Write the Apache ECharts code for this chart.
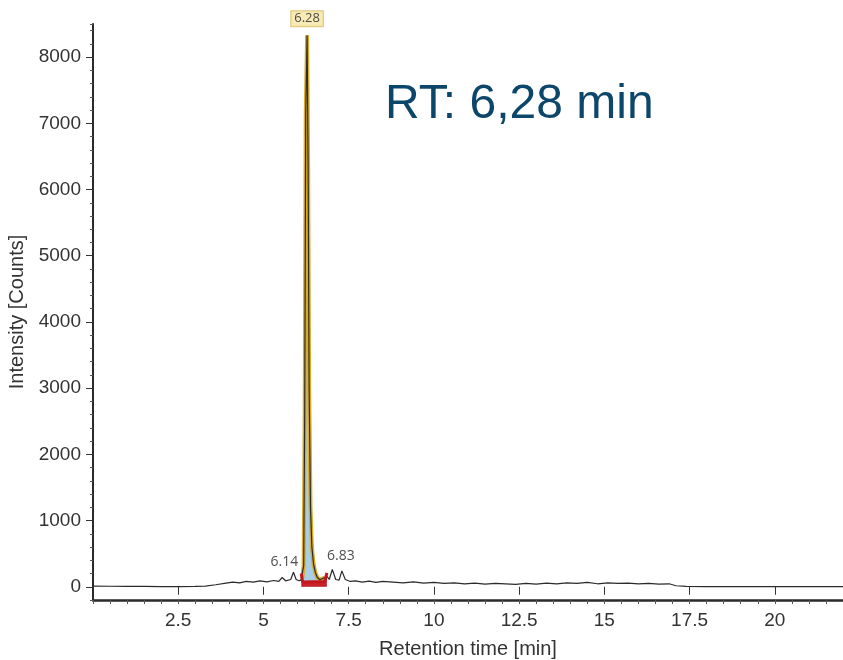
<!DOCTYPE html>
<html>
<head>
<meta charset="utf-8">
<script src="https://cdn.jsdelivr.net/npm/echarts@6/dist/echarts.min.js"></script>
<style>
  html, body { margin: 0; padding: 0; background: #fff; }
  #chart { width: 843px; height: 660px; }
</style>
</head>
<body>
<div id="chart"></div>
<script>
// retention time (min) and intensity (counts)
const times = [0, 0.5, 1.0, 1.5, 2.0, 2.5, 3.0, 3.3, 3.6, 3.9, 4.1, 4.3, 4.5, 4.7, 4.9, 5.1, 5.3, 5.45, 5.55, 5.65,
  5.8, 5.88, 5.96, 6.04, 6.10, 6.14, 6.18, 6.21, 6.24, 6.28, 6.31, 6.34, 6.38, 6.42, 6.47, 6.52, 6.58, 6.65, 6.72, 6.80,
  6.86, 6.93, 7.02, 7.12, 7.22, 7.30, 7.40, 7.55, 7.7, 7.9, 8.1, 8.3, 8.5, 8.8, 9.1, 9.4, 9.7, 10.0, 10.3, 10.6,
  10.9, 11.2, 11.5, 11.8, 12.1, 12.4, 12.7, 13.0, 13.3, 13.6, 13.9, 14.2, 14.5, 14.8, 15.1, 15.4, 15.7, 16.0, 16.3, 16.6,
  16.9, 17.1, 17.4, 18.0, 22.0];
const counts = [10, 8, 5, 6, 3, 2, 5, 10, 30, 55, 70, 60, 80, 70, 90, 75, 95, 80, 140, 90,
  110, 220, 110, 90, 100, 130, 320, 2600, 7100, 8330, 6400, 3000, 1200, 600, 340, 220, 140, 110, 120, 140,
  160, 110, 260, 110, 100, 240, 110, 80, 90, 70, 85, 65, 80, 70, 60, 75, 55, 65, 50, 60,
  45, 55, 40, 50, 45, 35, 50, 40, 55, 45, 60, 50, 65, 45, 60, 50, 55, 45, 50, 40,
  45, 15, 5, 3, 2];

// integration window and baseline marks
const intStart = 6.14;
const intEnd = 6.83;
const intTimes = [6.11, 6.15, 6.80, 6.86];
const intCounts = [200, 70, 80, 210];

// peak annotations
const apexTime = 6.28;
const apexCount = 8330;
const edgeLabels = ['6.14', '6.83'];
const edgeTimes = [6.14, 6.83];
const edgeCounts = [130, 140];

// axis ticks
const xLabelValues = [2.5, 5, 7.5, 10, 12.5, 15, 17.5, 20];
const yLabelValues = [0, 1000, 2000, 3000, 4000, 5000, 6000, 7000, 8000];

const trace = times.map((t, i) => [t, counts[i]]);
const peak = trace.filter(p => p[0] >= intStart && p[0] <= intEnd);
const integ = intTimes.map((t, i) => [t, intCounts[i]]);
const edges = edgeTimes.map((t, i) => ({ value: [t, edgeCounts[i]], name: edgeLabels[i] }));

const txt = '#333';
const font = 'Liberation Sans, Arial, sans-serif';

const chart = echarts.init(document.getElementById('chart'));
chart.setOption({
  animation: false,
  backgroundColor: '#fff',
  grid: { left: 93, right: 0, top: 24, bottom: 60, outerBoundsMode: 'none', containLabel: false },
  xAxis: [
    {
      type: 'value', min: 0, max: 22, interval: 0.5,
      name: 'Retention time [min]', nameLocation: 'middle', nameGap: 39,
      nameTextStyle: { fontSize: 20, color: txt, fontFamily: font },
      axisLine: { show: true, onZero: false, lineStyle: { color: '#2a2a2a', width: 2.5 } },
      axisTick: { show: true, length: 4, lineStyle: { color: '#555' } },
      axisLabel: { customValues: xLabelValues, fontSize: 19, color: txt, fontFamily: font, margin: 11 },
      splitLine: { show: false }
    },
    {
      type: 'value', min: 0, max: 22, position: 'bottom',
      axisLine: { show: false },
      axisTick: { show: true, customValues: xLabelValues, length: 8, lineStyle: { color: '#333' } },
      axisLabel: { show: false },
      splitLine: { show: false }
    }
  ],
  yAxis: [
    {
      type: 'value', min: -200, max: 8500, interval: 200,
      name: 'Intensity [Counts]', nameLocation: 'middle', nameGap: 51,
      nameTextStyle: { fontSize: 20, color: txt, fontFamily: font },
      axisLine: { show: true, onZero: false, lineStyle: { color: '#2a2a2a', width: 2 } },
      axisTick: { show: true, length: 3, lineStyle: { color: '#555' } },
      axisLabel: {
        customValues: yLabelValues, fontSize: 19, color: txt, fontFamily: font, margin: 12,
        formatter: v => String(v)
      },
      splitLine: { show: false }
    },
    {
      type: 'value', min: -200, max: 8500, position: 'left',
      axisLine: { show: false },
      axisTick: { show: true, customValues: yLabelValues, length: 7, lineStyle: { color: '#333' } },
      axisLabel: { show: false },
      splitLine: { show: false }
    }
  ],
  graphic: [
    {
      type: 'text', left: 385, top: 81,
      style: { text: 'RT: 6,28 min', fontSize: 48, fill: '#0d466b', fontFamily: font }
    }
  ],
  series: [
    {
      type: 'line', data: peak, showSymbol: false, z: 2,
      lineStyle: { color: '#d9a928', width: 4 },
      areaStyle: { color: '#a8cfe6', opacity: 1 }
    },
    {
      type: 'line', data: trace, showSymbol: false, z: 3,
      lineStyle: { color: '#2b2b2b', width: 1.2 }
    },
    {
      type: 'line', data: integ, showSymbol: false, z: 4,
      lineStyle: { color: '#c4161c', width: 3 },
      areaStyle: { color: '#c8202a', opacity: 1 }
    },
    {
      type: 'scatter', data: [[apexTime, apexCount]], symbolSize: 0, z: 5,
      label: {
        show: true, position: 'top', distance: 9, formatter: '6.28',
        fontSize: 13, color: '#222', fontFamily: 'Open Sans, sans-serif',
        backgroundColor: '#f6e6a6', borderColor: '#d8bd62', borderWidth: 1, padding: [1, 3]
      }
    },
    {
      type: 'scatter', data: edges, symbolSize: 0, z: 5,
      label: {
        show: true, position: 'inside', formatter: p => p.name,
        fontSize: 14, color: '#222', fontFamily: 'Open Sans, sans-serif'
      },
      labelLayout: p => ({ dx: p.dataIndex === 0 ? -18 : 15, dy: p.dataIndex === 0 ? -16 : -21 })
    }
  ]
});
</script>
</body>
</html>
